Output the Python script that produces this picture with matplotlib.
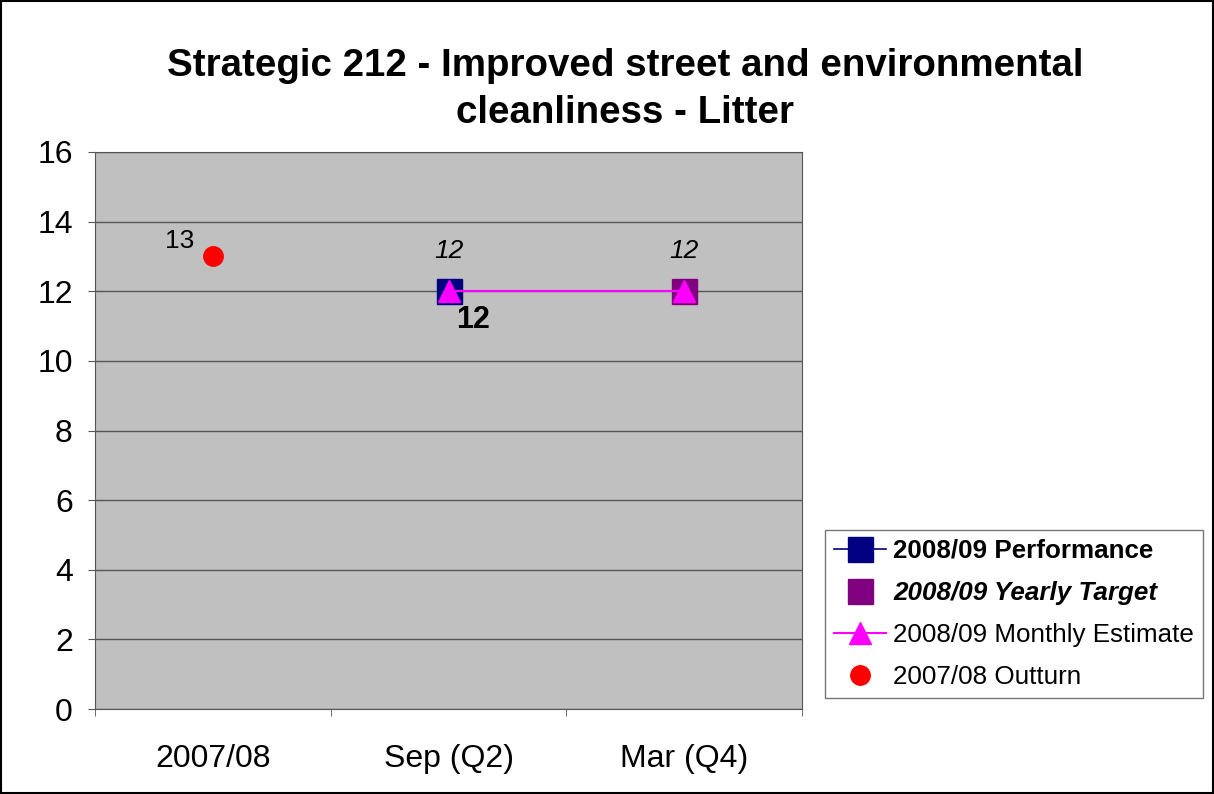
import numpy as np
import matplotlib
matplotlib.use("Agg")
import matplotlib.pyplot as plt

# 0. Data
categories = ["2007/08", "Sep (Q2)", "Mar (Q4)"]
performance = [np.nan, 12, np.nan]
yearly_target = [np.nan, np.nan, 12]
monthly_estimate = [np.nan, 12, 12]
outturn = [13, np.nan, np.nan]
yticks = [0, 2, 4, 6, 8, 10, 12, 14, 16]

plt.rcParams['font.family'] = ['Liberation Sans', 'DejaVu Sans']

fig = plt.figure(figsize=(12.14, 7.94), dpi=100)
fig.patches.append(plt.Rectangle((0.001, 0.001), 0.998, 0.998, transform=fig.transFigure,
                                 fill=False, edgecolor="black", linewidth=1.5))
ax = fig.add_axes([0.0783, 0.107, 0.5823, 0.7016])
ax.set_facecolor("#c0c0c0")

x = np.arange(len(categories))

ax.plot(x, performance, color="#000080", marker="s", markersize=18, linewidth=1.2,
        label="2008/09 Performance", zorder=3)
ax.plot(x, yearly_target, color="#800080", marker="s", markersize=18, linestyle="none",
        label="2008/09 Yearly Target", zorder=3)
ax.plot(x, monthly_estimate, color="#ff00ff", marker="^", markersize=16, linewidth=1.5,
        label="2008/09 Monthly Estimate", zorder=4)
ax.plot(x, outturn, color="#ff0000", marker="o", markersize=14, linestyle="none",
        label="2007/08 Outturn", zorder=3)

# 1. data labels
for i, v in enumerate(outturn):
    if not np.isnan(v):
        ax.annotate(str(v), (x[i], v), xytext=(-24, 11), textcoords="offset points",
                    fontsize=19, ha="center", va="center")
for i, v in enumerate(monthly_estimate):
    if not np.isnan(v):
        ax.annotate(str(v), (x[i], v), xytext=(0, 29), textcoords="offset points",
                    fontsize=19, style="italic", ha="center", va="center")
for i, v in enumerate(performance):
    if not np.isnan(v):
        ax.annotate(str(v), (x[i], v), xytext=(18, -21), textcoords="offset points",
                    fontsize=22, fontweight="bold", ha="center", va="center")

# 2. axes
ax.set_xlim(-0.5, 2.5)
ax.set_ylim(0, 16)
ax.set_yticks(yticks)
ax.set_xticks(x)
ax.set_xticklabels(categories)
ax.set_xticks([-0.5, 0.5, 1.5, 2.5], minor=True)
ax.tick_params(axis="x", which="major", length=0, pad=25, labelsize=23)
ax.tick_params(axis="x", which="minor", length=5, direction="out", color="#555555")
ax.tick_params(axis="y", length=5, pad=11, direction="out", labelsize=23, color="#555555")
ax.yaxis.grid(True, color="#555555", linewidth=1)
ax.set_axisbelow(True)
for s in ax.spines.values():
    s.set_color("#555555")

fig.text(0.515, 0.887, "Strategic 212 - Improved street and environmental\ncleanliness - Litter",
         fontsize=27.7, fontweight="bold", ha="center", va="center", linespacing=1.38)

# 3. legend
leg = ax.legend(loc="upper left", bbox_to_anchor=(1.032, 0.322), frameon=True, fancybox=False,
                edgecolor="#555555", fontsize=18.7, handlelength=2.0, labelspacing=0.7,
                borderpad=0.35, handletextpad=0.3, borderaxespad=0)
texts = leg.get_texts()
texts[0].set_fontweight("bold")
texts[1].set_fontweight("bold")
texts[1].set_style("italic")

plt.savefig("out.png", dpi=100)
